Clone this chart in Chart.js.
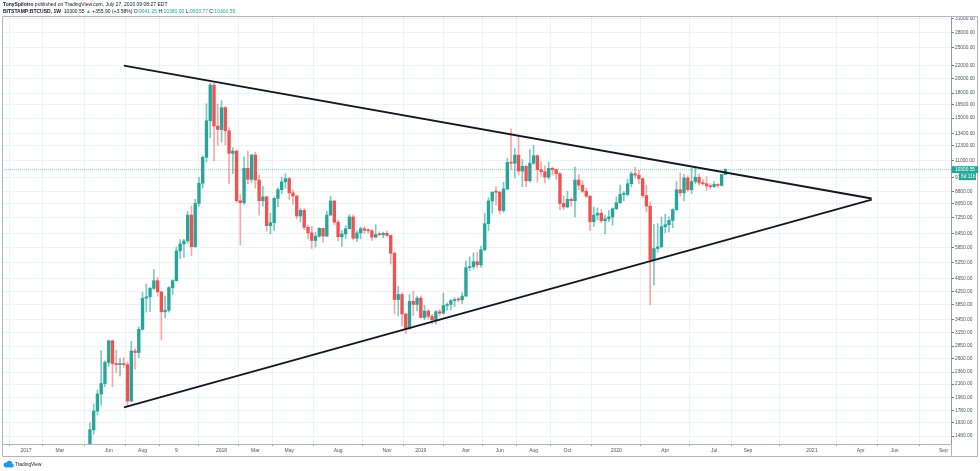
<!DOCTYPE html>
<html><head><meta charset="utf-8">
<script src="https://cdn.jsdelivr.net/npm/chart.js@4"></script>
<style>
html,body{margin:0;padding:0;background:#fff;overflow:hidden}
#wrap{position:relative;width:980px;height:471px}
canvas{display:block}
</style></head><body>
<div id="wrap"><canvas id="c" width="980" height="471"></canvas></div>
<script>
// ---- data (weekly candles, Bitstamp BTCUSD) ----
const firstWeek = '2017-05-01';
const opens = [1350,1550,1775,2010,2170,2530,2960,2510,2490,2510,2490,1910,2750,2720,3220,4040,4080,4340,4590,4230,3660,3700,4360,4590,5700,6000,6130,7400,5880,8060,9330,11270,14710,19080,14150,
13800,16175,13680,11600,11800,8215,8100,10400,9600,11460,9555,8215,8450,6850,7000,8360,8900,9430,9650,8700,8500,7350,7660,6770,6500,6150,6350,6720,6350,7400,8200,7030,6320,6450,6700,7300,6250,6500,6700,6625,6600,6300,6420,6410,6480,6380,5600,4000,4150,3600,3240,3950,
3860,4040,3510,3680,3540,3450,3660,3620,3830,3860,3970,4000,3990,4100,5050,5080,5270,5150,5750,6950,8200,8750,8740,7650,8950,10850,10800,11450,10200,10550,9500,10800,11400,10300,10150,9750,10400,10300,10000,8050,7850,8300,8220,9550,9200,8800,8500,7050,7400,7500,7100,7200,
7300,7750,8100,8600,8600,9300,10000,9900,9650,8530,7900,5350,5800,5870,6800,6900,7120,7700,8900,8700,9700,8900,9450,9750,9350,9300,9150,9100,9250,9180,9941.25];
const highs = [1630,1870,2070,2760,2560,2980,2980,2770,2600,2620,2540,2950,2800,3280,4220,4480,4370,4980,4700,4240,4100,4400,4620,5850,6190,6200,7600,7900,8300,9750,11400,16650,19330,19300,16600,
17030,16300,14000,12100,11900,8600,11300,11800,11500,11700,9900,9100,8500,7500,8430,9030,9760,10000,9750,8880,8550,7770,7770,6880,6820,6530,6750,6740,7600,8500,8230,7150,6620,6850,7430,7410,6600,6790,6800,6690,6670,6900,6560,6540,6600,6400,5650,4400,4200,3620,4150,4250,
4100,4110,3830,3720,3590,3700,3720,4200,3900,4000,4050,4070,4200,5300,5460,5620,5640,5900,7500,8400,8700,9100,8800,9400,11200,13880,12000,13200,11100,10650,11900,12300,11500,10900,10600,10900,10500,10350,10100,8500,8800,8400,10500,9950,9500,9000,8500,7850,7800,7700,7400,7650,
7800,8450,9200,8780,9600,10150,10500,10250,9680,9200,8150,6900,6950,7300,7450,7300,7750,9450,10050,9950,9850,10400,10400,9980,9600,9800,9300,9450,9300,9950,10380];
const lows = [1340,1500,1730,1850,2120,2460,2120,2350,2290,2440,1840,1900,2410,2620,3200,3650,3660,4300,4100,2980,3500,3650,4150,4580,5400,5450,6030,5510,5850,7900,9000,10900,13000,11000,12300,
12600,12340,9300,10000,8100,5950,8000,9300,9400,9000,7400,7900,6580,6450,6620,7870,8650,8980,8300,8000,7200,7050,6650,6220,5800,5860,6300,6080,6320,7400,6900,6120,5880,6230,6700,6180,6100,6220,6470,6500,6150,6280,6390,6270,6340,5180,3600,3550,3300,3120,3220,3560,
3680,3500,3450,3470,3350,3350,3560,3600,3700,3700,3800,3920,3880,4100,4940,5000,5040,5050,5700,6600,7500,7950,7450,7550,8900,10300,9700,9900,9100,9100,9400,10700,9400,9800,9350,9600,9900,9600,7700,7700,7800,7900,7300,8900,8700,8400,6600,6800,7150,7000,6450,7050,
6870,7700,8050,8200,8500,9100,9700,9300,8400,7600,3850,4450,5650,5850,6500,6550,6750,7650,8500,8200,8800,8640,9300,9200,9200,8850,8950,9050,9050,9150,9933.77];
const closes = [1550,1775,2010,2170,2530,2960,2510,2490,2510,2490,1910,2750,2720,3220,4040,4080,4340,4590,4230,3660,3700,4360,4590,5700,6000,6130,7400,5880,8060,9330,11270,14710,19080,14150,13800,
16175,13680,11600,11800,8215,8100,10400,9600,11460,9555,8215,8450,6850,7000,8360,8900,9430,9650,8700,8500,7350,7660,6770,6500,6150,6350,6720,6350,7400,8200,7030,6320,6450,6700,7300,6250,6500,6700,6625,6600,6300,6420,6410,6480,6380,5600,4000,4150,3600,3240,3950,3860,
4040,3510,3680,3540,3450,3660,3620,3830,3860,3970,4000,3990,4100,5050,5080,5270,5150,5750,6950,8200,8750,8740,7650,8950,10850,10800,11450,10200,10550,9500,10800,11400,10300,10150,9750,10400,10300,10000,8050,7850,8300,8220,9550,9200,8800,8500,7050,7400,7500,7100,7200,7300,
7750,8100,8600,8600,9300,10000,9900,9650,8530,7900,5350,5800,5870,6800,6900,7120,7700,8900,8700,9700,8900,9450,9750,9350,9300,9150,9100,9250,9180,9944.65,10300.55];
// trendlines: [week offset from 2017-01-02, price] pairs
const upperTrend = [[26.06, 21960], [224.9, 8350]];
const lowerTrend = [[26.06, 1825], [224.9, 8287]];
const xTickDates = ['2017-01-02','2017-03-06','2017-06-05','2017-08-07','2017-10-09','2018-01-01','2018-03-05','2018-05-07','2018-08-06','2018-11-05','2019-01-07','2019-04-01','2019-06-03','2019-08-05','2019-10-07','2020-01-06','2020-04-06','2020-07-06','2020-09-07','2021-01-04','2021-04-05','2021-06-07','2021-09-06'];
const xTickLabels = ['2017','Mar','Jun','Aug','9','2018','Mar','May','Aug','Nov','2019','Apr','Jun','Aug','Oct','2020','Apr','Jul','Sep','2021','Apr','Jun','Sep'];
const yTickValues = [31000,28000,25000,22000,20000,18000,16500,15000,13400,12300,11000,9750,8800,8050,7250,6450,5850,5250,4650,4250,3850,3450,3150,2850,2600,2360,2160,1960,1780,1630,1480];
const lastPrice = 10300.55;
const countdown = '6d 11h';
const headerLine1 = [['TonySpilotro', 'b'], [' published on TradingView.com, July 27, 2020 09:08:27 EDT', 'n']];
const headerLine2 = [['BITSTAMP:BTCUSD, 1W', 'b'], ['  10300.55 ', 'n'], ['▲', 'g'], [' +355.90 (+3.58%) ', 'n'],
  ['O:', 'n'], ['9941.25', 'g'], [' H:', 'n'], ['10380.00', 'g'], [' L:', 'n'], ['9933.77', 'g'], [' C:', 'n'], ['10300.55', 'g']];

// ---- helpers ----
const EPOCH = Date.UTC(2017,0,2), WEEK = 7*864e5;
const wk = s => (Date.parse(s+'T00:00:00Z') - EPOCH) / WEEK;
const w0 = wk(firstWeek);
const xs = closes.map((_, i) => w0 + i);
const GREEN = '#26a69a', RED = '#ef5350';
const isUp = closes.map((c, i) => c >= opens[i]);
const FONT = '"Liberation Sans", Arial, sans-serif';
const X_MIN = -6.38, X_MAX = 246.0;

function drawSegments(ctx, segs, x, y, size) {
  for (const [t, k] of segs) {
    ctx.font = (k === 'b' ? 'bold ' : '') + size + 'px ' + FONT;
    ctx.fillStyle = k === 'g' ? GREEN : '#131722';
    ctx.fillText(t, x, y);
    x += ctx.measureText(t).width;
  }
}

const framePlugin = {
  id: 'frame',
  afterDraw(chart) {
    const {ctx, chartArea: a} = chart;
    ctx.save();
    ctx.strokeStyle = '#b2b5be'; ctx.lineWidth = 1;
    ctx.beginPath();
    ctx.moveTo(2.5, 16.5); ctx.lineTo(977.5, 16.5);
    ctx.moveTo(2.5, 16.5); ctx.lineTo(2.5, 456.5);
    ctx.moveTo(977.5, 16.5); ctx.lineTo(977.5, 456.5);
    ctx.moveTo(2.5, 456.5); ctx.lineTo(977.5, 456.5);
    ctx.moveTo(Math.round(a.right)+0.5, a.bottom); ctx.lineTo(Math.round(a.right)+0.5, 456.5);
    ctx.stroke();
    // header
    ctx.textBaseline = 'middle';
    drawSegments(ctx, headerLine1, 3, 5, 5);
    drawSegments(ctx, headerLine2, 3, 11.5, 5);
    // last price tag
    const y = chart.scales.y.getPixelForValue(lastPrice);
    ctx.fillStyle = GREEN;
    ctx.fillRect(a.right + 1, y - 3.5, 26, 7);
    ctx.fillRect(a.right + 8, y + 3.5, 17, 7);
    ctx.fillStyle = '#fff';
    ctx.font = '4.8px ' + FONT;
    ctx.fillText(lastPrice.toFixed(2), a.right + 4, y);
    ctx.fillText(countdown, a.right + 10, y + 7);
    // TradingView logo + text
    ctx.fillStyle = '#2196f3';
    ctx.beginPath();
    ctx.arc(6, 465, 2.4, 0, Math.PI*2);
    ctx.arc(9.3, 463.7, 3.0, 0, Math.PI*2);
    ctx.arc(11.8, 465.5, 2.0, 0, Math.PI*2);
    ctx.fill();
    ctx.fillRect(6, 465, 6, 2.4);
    ctx.fillStyle = '#131722';
    ctx.font = '4.8px ' + FONT;
    ctx.fillText('TradingView', 15, 464.5);
    ctx.restore();
  }
};

new Chart(document.getElementById('c'), {
  data: {
    datasets: [
      { type: 'line', data: [{x: X_MIN, y: lastPrice}, {x: X_MAX, y: lastPrice}],
        borderColor: 'rgba(38,166,154,0.55)', borderWidth: 1, borderDash: [1, 1], pointRadius: 0, order: 5 },
      { type: 'bar', data: xs.map((x, i) => ({x, y: [lows[i], highs[i]]})),
        backgroundColor: isUp.map(u => u ? 'rgba(38,166,154,0.6)' : 'rgba(239,83,80,0.5)'),
        barThickness: 1, grouped: false, order: 3 },
      { type: 'bar', data: xs.map((x, i) => ({x, y: [opens[i], closes[i]]})),
        backgroundColor: isUp.map(u => u ? GREEN : RED),
        barThickness: 2.7, minBarLength: 1, grouped: false, order: 2 },
      { type: 'line', data: upperTrend.map(p => ({x: p[0], y: p[1]})),
        borderColor: '#131722', borderWidth: 1.8, pointRadius: 0, order: 1 },
      { type: 'line', data: lowerTrend.map(p => ({x: p[0], y: p[1]})),
        borderColor: '#131722', borderWidth: 1.8, pointRadius: 0, order: 1 }
    ]
  },
  options: {
    responsive: false, animation: false, devicePixelRatio: 1,
    layout: { padding: { left: 2, top: 16, right: 2, bottom: 15 } },
    plugins: { legend: { display: false }, tooltip: { enabled: false } },
    scales: {
      x: {
        type: 'linear', position: 'bottom', min: X_MIN, max: X_MAX, offset: false,
        afterBuildTicks: s => { s.ticks = xTickDates.map(d => ({ value: wk(d) })); },
        afterFit: s => { s.height = 12; },
        ticks: { autoSkip: false, maxRotation: 0, padding: 2, color: '#50535e',
                 font: { size: 5, family: FONT }, callback: (v, i) => xTickLabels[i] },
        grid: { color: '#eef1f6', tickLength: 2, tickColor: '#9598a1' },
        border: { color: '#b2b5be' }
      },
      y: {
        type: 'logarithmic', position: 'right', min: 1397, max: 31540,
        afterBuildTicks: s => { s.ticks = yTickValues.map(v => ({ value: v })); },
        afterFit: s => { s.width = 27; },
        ticks: { autoSkip: false, padding: 1, color: '#50535e',
                 font: { size: 4.8, family: FONT }, callback: v => Number(v).toFixed(2) },
        grid: { color: '#eef1f6', tickLength: 3, tickColor: '#787b86' },
        border: { color: '#9598a1' }
      }
    }
  },
  plugins: [framePlugin]
});
</script>
</body></html>
